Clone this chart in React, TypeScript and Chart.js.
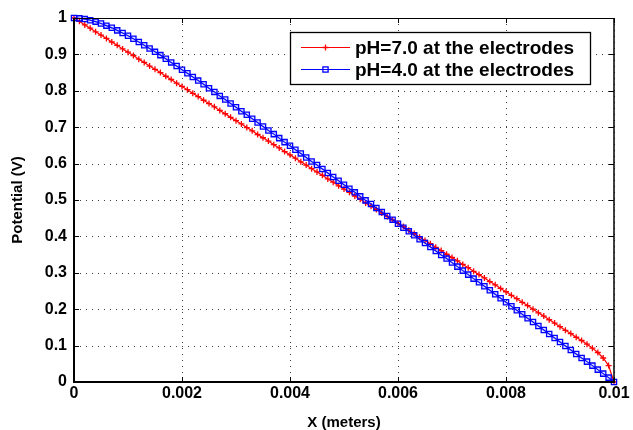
import { useEffect, useRef } from 'react';
import { Chart, registerables } from 'chart.js';

Chart.register(...registerables);

// Position along the cell (meters)
const xMeters = [
  0.0000, 0.0001, 0.0002, 0.0003, 0.0004, 0.0005, 0.0006, 0.0007, 0.0008, 0.0009,
  0.0010, 0.0011, 0.0012, 0.0013, 0.0014, 0.0015, 0.0016, 0.0017, 0.0018, 0.0019,
  0.0020, 0.0021, 0.0022, 0.0023, 0.0024, 0.0025, 0.0026, 0.0027, 0.0028, 0.0029,
  0.0030, 0.0031, 0.0032, 0.0033, 0.0034, 0.0035, 0.0036, 0.0037, 0.0038, 0.0039,
  0.0040, 0.0041, 0.0042, 0.0043, 0.0044, 0.0045, 0.0046, 0.0047, 0.0048, 0.0049,
  0.0050, 0.0051, 0.0052, 0.0053, 0.0054, 0.0055, 0.0056, 0.0057, 0.0058, 0.0059,
  0.0060, 0.0061, 0.0062, 0.0063, 0.0064, 0.0065, 0.0066, 0.0067, 0.0068, 0.0069,
  0.0070, 0.0071, 0.0072, 0.0073, 0.0074, 0.0075, 0.0076, 0.0077, 0.0078, 0.0079,
  0.0080, 0.0081, 0.0082, 0.0083, 0.0084, 0.0085, 0.0086, 0.0087, 0.0088, 0.0089,
  0.0090, 0.0091, 0.0092, 0.0093, 0.0094, 0.0095, 0.0096, 0.0097, 0.0098, 0.0099,
  0.0100,
];

// Potential (V), pH = 7.0 at the electrodes
const potentialPH7 = [
  1.000, 0.991, 0.981, 0.972, 0.962, 0.953, 0.944, 0.934, 0.925, 0.915,
  0.906, 0.897, 0.887, 0.878, 0.868, 0.859, 0.850, 0.840, 0.831, 0.821,
  0.812, 0.803, 0.793, 0.784, 0.774, 0.765, 0.756, 0.746, 0.737, 0.727,
  0.718, 0.709, 0.699, 0.690, 0.680, 0.671, 0.662, 0.652, 0.643, 0.633,
  0.624, 0.615, 0.605, 0.596, 0.586, 0.577, 0.568, 0.558, 0.549, 0.539,
  0.530, 0.521, 0.511, 0.502, 0.492, 0.483, 0.474, 0.464, 0.455, 0.445,
  0.436, 0.427, 0.417, 0.408, 0.398, 0.389, 0.380, 0.370, 0.361, 0.351,
  0.342, 0.333, 0.323, 0.314, 0.304, 0.295, 0.286, 0.276, 0.267, 0.257,
  0.248, 0.238, 0.229, 0.219, 0.210, 0.200, 0.190, 0.181, 0.171, 0.162,
  0.152, 0.142, 0.133, 0.123, 0.114, 0.104, 0.093, 0.081, 0.066, 0.045,
  0.000,
];

// Potential (V), pH = 4.0 at the electrodes
const potentialPH4 = [
  1.000, 0.999, 0.997, 0.994, 0.990, 0.985, 0.979, 0.973, 0.966, 0.959,
  0.951, 0.943, 0.934, 0.925, 0.916, 0.907, 0.898, 0.888, 0.878, 0.868,
  0.858, 0.848, 0.838, 0.828, 0.818, 0.807, 0.797, 0.786, 0.776, 0.765,
  0.755, 0.744, 0.734, 0.723, 0.713, 0.702, 0.691, 0.681, 0.670, 0.659,
  0.649, 0.638, 0.628, 0.617, 0.606, 0.596, 0.585, 0.574, 0.563, 0.553,
  0.542, 0.531, 0.521, 0.510, 0.499, 0.489, 0.478, 0.467, 0.456, 0.446,
  0.435, 0.424, 0.414, 0.403, 0.392, 0.382, 0.371, 0.360, 0.349, 0.339,
  0.328, 0.317, 0.306, 0.295, 0.284, 0.274, 0.263, 0.252, 0.241, 0.230,
  0.219, 0.208, 0.197, 0.186, 0.175, 0.165, 0.154, 0.143, 0.132, 0.121,
  0.110, 0.099, 0.088, 0.077, 0.066, 0.056, 0.045, 0.034, 0.023, 0.012,
  0.000,
];

const seriesNames = ['pH=7.0 at the electrodes', 'pH=4.0 at the electrodes'];
const seriesColors = ['#ff0000', '#0000ff'];

const xTickValues = [0, 0.002, 0.004, 0.006, 0.008, 0.01];
const xTickLabels = ['0', '0.002', '0.004', '0.006', '0.008', '0.01'];
const yTickValues = [0, 0.1, 0.2, 0.3, 0.4, 0.5, 0.6, 0.7, 0.8, 0.9, 1];
const yTickLabels = ['0', '0.1', '0.2', '0.3', '0.4', '0.5', '0.6', '0.7', '0.8', '0.9', '1'];

const xTitle = 'X (meters)';
const yTitle = 'Potential (V)';

const FONT_FAMILY = "'Liberation Sans', Arial, Helvetica, sans-serif";

const framePlugin = {
  id: 'matlabFrame',
  beforeDatasetsDraw(chart: any) {
    const { ctx, chartArea } = chart;
    const xs = chart.scales.x;
    const ys = chart.scales.y;
    ctx.save();
    ctx.strokeStyle = 'rgba(0,0,0,0.75)';
    ctx.lineWidth = 1;
    ctx.setLineDash([1, 5]);
    xTickValues.forEach((v) => {
      const px = Math.round(xs.getPixelForValue(v)) + 0.5;
      ctx.beginPath();
      ctx.moveTo(px, chartArea.top);
      ctx.lineTo(px, chartArea.bottom);
      ctx.stroke();
    });
    yTickValues.forEach((v) => {
      const py = Math.round(ys.getPixelForValue(v)) + 0.5;
      ctx.beginPath();
      ctx.moveTo(chartArea.left, py);
      ctx.lineTo(chartArea.right, py);
      ctx.stroke();
    });
    ctx.restore();
  },
  afterDraw(chart: any) {
    const { ctx, chartArea } = chart;
    const xs = chart.scales.x;
    const ys = chart.scales.y;
    const { left, right, top, bottom } = chartArea;
    ctx.save();
    ctx.setLineDash([]);
    ctx.strokeStyle = '#000';
    // frame
    ctx.lineWidth = 1;
    ctx.beginPath();
    ctx.moveTo(left, top + 0.5);
    ctx.lineTo(right, top + 0.5);
    ctx.stroke();
    ctx.lineWidth = 1.5;
    ctx.beginPath();
    ctx.moveTo(right, top);
    ctx.lineTo(right, bottom);
    ctx.stroke();
    ctx.lineWidth = 2;
    ctx.beginPath();
    ctx.moveTo(left, top);
    ctx.lineTo(left, bottom);
    ctx.lineTo(right + 1, bottom);
    ctx.stroke();
    // inward ticks
    ctx.lineWidth = 1;
    const tl = 5;
    xTickValues.forEach((v) => {
      const px = Math.round(xs.getPixelForValue(v)) + 0.5;
      ctx.beginPath();
      ctx.moveTo(px, bottom);
      ctx.lineTo(px, bottom - tl);
      ctx.moveTo(px, top);
      ctx.lineTo(px, top + tl);
      ctx.stroke();
    });
    yTickValues.forEach((v) => {
      const py = Math.round(ys.getPixelForValue(v)) + 0.5;
      ctx.beginPath();
      ctx.moveTo(left, py);
      ctx.lineTo(left + tl, py);
      ctx.moveTo(right, py);
      ctx.lineTo(right - tl, py);
      ctx.stroke();
    });

    // legend box
    const bx = 290.5, by = 32.5, bw = 300, bh = 52;
    ctx.fillStyle = '#fff';
    ctx.fillRect(bx, by, bw, bh);
    ctx.strokeStyle = '#000';
    ctx.lineWidth = 1.3;
    ctx.strokeRect(bx, by, bw, bh);
    const rows = [47.5, 69.5];
    ctx.font = `bold 19px ${FONT_FAMILY}`;
    ctx.textBaseline = 'middle';
    ctx.textAlign = 'left';
    seriesNames.forEach((name, i) => {
      const y = rows[i];
      const c = seriesColors[i];
      ctx.strokeStyle = c;
      ctx.lineWidth = 1.2;
      ctx.beginPath();
      ctx.moveTo(301, y);
      ctx.lineTo(350, y);
      ctx.stroke();
      const mx = 325.5;
      ctx.lineWidth = 1.3;
      if (i === 0) {
        ctx.beginPath();
        ctx.moveTo(mx - 3, y);
        ctx.lineTo(mx + 3, y);
        ctx.moveTo(mx, y - 3);
        ctx.lineTo(mx, y + 3);
        ctx.stroke();
      } else {
        ctx.strokeRect(mx - 2.6, y - 2.6, 5.2, 5.2);
      }
      ctx.fillStyle = '#000';
      ctx.fillText(name, 355, y + 1);
    });
    ctx.restore();
  },
};

export default function App() {
  const canvasRef = useRef<HTMLCanvasElement | null>(null);

  useEffect(() => {
    const canvas = canvasRef.current;
    if (!canvas) return;
    const tickFont = { family: FONT_FAMILY, size: 16, weight: 'bold' as const };
    const titleFont = { family: FONT_FAMILY, size: 15, weight: 'bold' as const, lineHeight: 1 };

    const chart = new Chart(canvas, {
      type: 'line',
      data: {
        datasets: [
          {
            label: seriesNames[0],
            data: xMeters.map((x, i) => ({ x, y: potentialPH7[i] })),
            borderColor: seriesColors[0],
            backgroundColor: seriesColors[0],
            borderWidth: 1.2,
            pointStyle: 'cross',
            pointRadius: 3,
            pointBorderWidth: 1.3,
            pointBorderColor: seriesColors[0],
            pointHoverRadius: 3,
            fill: false,
            tension: 0,
            clip: 6,
            order: 1,
          },
          {
            label: seriesNames[1],
            data: xMeters.map((x, i) => ({ x, y: potentialPH4[i] })),
            borderColor: seriesColors[1],
            backgroundColor: 'rgba(0,0,255,0.12)',
            borderWidth: 1.2,
            pointStyle: 'rect',
            pointRadius: 3.7,
            pointBorderWidth: 1.3,
            pointBorderColor: seriesColors[1],
            pointBackgroundColor: 'rgba(0,0,255,0.12)',
            pointHoverRadius: 3.7,
            fill: false,
            tension: 0,
            clip: 6,
            order: 0,
          },
        ] as any,
      },
      options: {
        animation: false,
        responsive: false,
        maintainAspectRatio: false,
        events: [],
        layout: { padding: { top: 18, right: 19, left: 0, bottom: 0 } },
        plugins: {
          legend: { display: false },
          tooltip: { enabled: false },
        },
        scales: {
          x: {
            type: 'linear',
            min: 0,
            max: 0.01,
            afterBuildTicks: (s: any) => {
              s.ticks = xTickValues.map((v) => ({ value: v }));
            },
            afterFit: (s: any) => {
              s.height = 48;
            },
            ticks: {
              callback: (_v: any, i: number) => xTickLabels[i],
              font: tickFont,
              color: '#000',
              padding: 2,
              maxRotation: 0,
              autoSkip: false,
            },
            grid: { display: false, drawTicks: false },
            border: { display: false },
            title: {
              display: true,
              text: xTitle,
              font: titleFont,
              color: '#000',
              padding: { top: 0, bottom: 0 },
            },
          },
          y: {
            type: 'linear',
            min: 0,
            max: 1,
            afterBuildTicks: (s: any) => {
              s.ticks = yTickValues.map((v) => ({ value: v }));
            },
            afterFit: (s: any) => {
              s.width = 74;
            },
            ticks: {
              callback: (_v: any, i: number) => yTickLabels[i],
              font: tickFont,
              color: '#000',
              padding: 7,
              autoSkip: false,
            },
            grid: { display: false, drawTicks: false },
            border: { display: false },
            title: {
              display: true,
              text: yTitle,
              font: titleFont,
              color: '#000',
              padding: { top: 10, bottom: 0 },
            },
          },
        },
      } as any,
      plugins: [framePlugin],
    });

    return () => {
      chart.destroy();
    };
  }, []);

  return (
    <div
      style={{
        position: 'fixed',
        left: 0,
        top: 0,
        width: 633,
        height: 430,
        background: '#fff',
        overflow: 'hidden',
      }}
    >
      <canvas ref={canvasRef} width={633} height={430} style={{ display: 'block' }} />
    </div>
  );
}
